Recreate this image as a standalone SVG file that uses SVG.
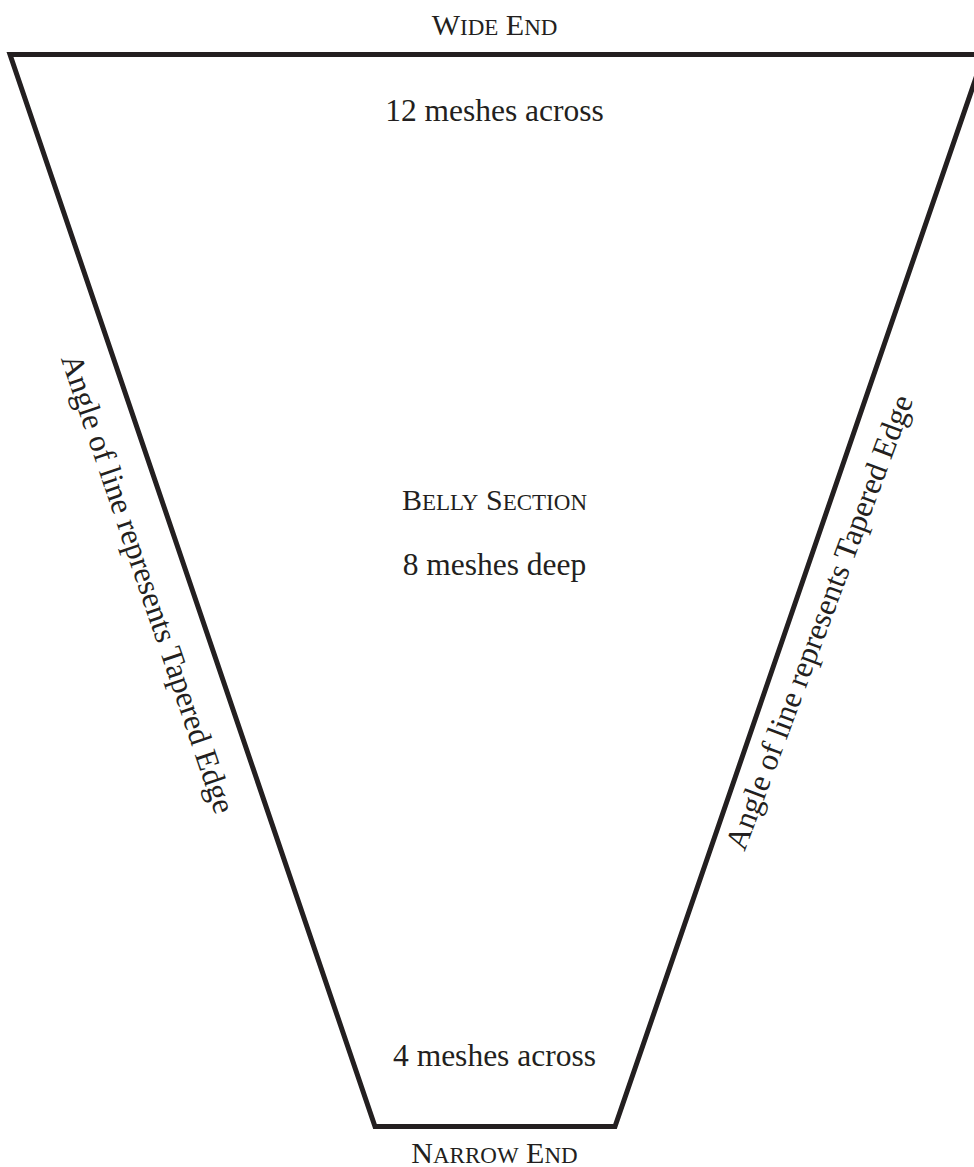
<svg xmlns="http://www.w3.org/2000/svg" width="974" height="1167" viewBox="0 0 974 1167">
  <style>
    .t { font-family: "Liberation Serif", "Times New Roman", serif; fill: #231f20; }
    .n { font-size: 31.5px; }
    .c { font-size: 30px; }
    .s { font-size: 23px; }
    .edge { fill: none; stroke: #231f20; stroke-width: 5; stroke-linejoin: miter; }
  </style>
  <rect width="974" height="1167" fill="#ffffff"/>
  <g id="connectors">
    <polygon id="belly-outline" class="edge" points="10,54.5 984,54.5 615,1126.5 375,1126.5"/>
  </g>
  <g id="wide-end">
    <text class="t c" x="494.5" y="35" text-anchor="middle">W<tspan class="s">IDE</tspan> E<tspan class="s">ND</tspan></text>
  </g>
  <g id="wide-count">
    <text class="t n" x="494.5" y="121" text-anchor="middle">12 meshes across</text>
  </g>
  <g id="belly-section">
    <text class="t c" x="494.5" y="510" text-anchor="middle">B<tspan class="s">ELLY</tspan> S<tspan class="s">ECTION</tspan></text>
    <text class="t n" x="494.5" y="575" text-anchor="middle">8 meshes deep</text>
  </g>
  <g id="narrow-count">
    <text class="t n" x="494.5" y="1066" text-anchor="middle">4 meshes across</text>
  </g>
  <g id="narrow-end">
    <text class="t c" x="494.5" y="1163" text-anchor="middle">N<tspan class="s">ARROW</tspan> E<tspan class="s">ND</tspan></text>
  </g>
  <g id="left-label">
    <text class="t n" text-anchor="middle" transform="translate(138,587) rotate(71.3)">Angle of line represents Tapered Edge</text>
  </g>
  <g id="right-label">
    <text class="t n" text-anchor="middle" transform="translate(829,626) rotate(-69.5)">Angle of line represents Tapered Edge</text>
  </g>
</svg>
